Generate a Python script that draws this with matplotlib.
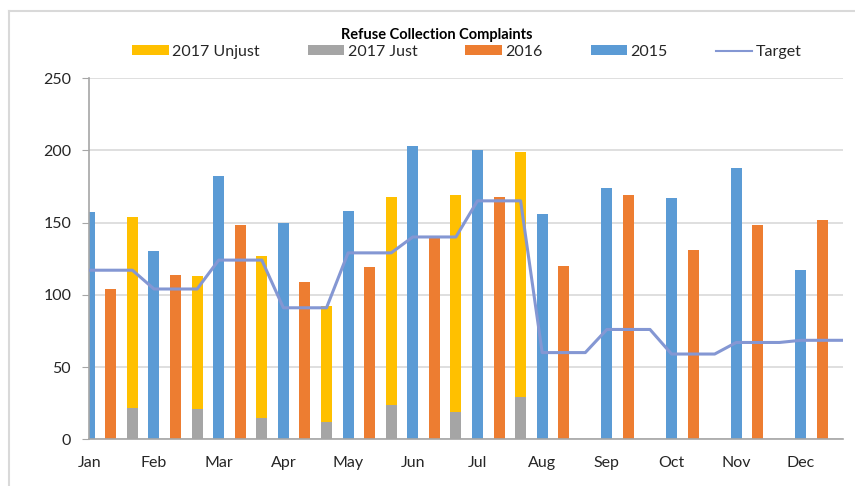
import matplotlib
matplotlib.use("Agg")
import matplotlib.pyplot as plt
from matplotlib.patches import Patch
from matplotlib.lines import Line2D
import numpy as np

plt.rcParams['font.family'] = ['Lato', 'DejaVu Sans']

months = ["Jan", "Feb", "Mar", "Apr", "May", "Jun", "Jul", "Aug", "Sep", "Oct", "Nov", "Dec"]
y2015 = [157, 130, 182, 150, 158, 203, 200, 156, 174, 167, 188, 117]
y2016 = [104, 114, 148, 109, 119, 141, 168, 120, 169, 131, 148, 152]
y2017_just = [22, 21, 15, 12, 24, 19, 29, 0, 0, 0, 0, 0]
y2017_total = [154, 113, 127, 92, 168, 169, 199, 0, 0, 0, 0, 0]
target = [117, 104, 124, 91, 129, 140, 165, 60, 76, 59, 67, 68.5]

y2017_unjust = [t - j for t, j in zip(y2017_total, y2017_just)]

C_BLUE = "#5B9BD5"
C_ORANGE = "#ED7D31"
C_GRAY = "#A5A5A5"
C_YELLOW = "#FFC000"
C_TARGET = "#8497D3"

fig = plt.figure(figsize=(8.55, 4.86), dpi=100)
ax = fig.add_axes([89.3 / 855, (486 - 439.3) / 486, (843 - 89.3) / 855, (439.3 - 78) / 486])

x = np.arange(len(months))
w = 0.17
off = 1 / 3
ax.bar(x, y2015, w, color=C_BLUE, zorder=2)
ax.bar(x + off, y2016, w, color=C_ORANGE, zorder=2)
ax.bar(x + 2 * off, y2017_just, w, color=C_GRAY, zorder=2)
ax.bar(x + 2 * off, y2017_unjust, w, bottom=y2017_just, color=C_YELLOW, zorder=2)

tx = []
ty = []
for i, t in enumerate(target):
    for k in range(3):
        tx.append(i + k * off)
        ty.append(t)
ax.plot(tx, ty, color=C_TARGET, lw=2.2, zorder=3, solid_joinstyle='round')

ax.set_xlim(0, 11.65)
ax.set_ylim(0, 250)
ax.set_yticks(range(0, 251, 50))
ax.set_xticks(x)
ax.set_xticklabels(months)
ax.yaxis.grid(True, color="#D9D9D9", lw=1.2, zorder=0)
ax.set_axisbelow(True)
for s in ["top", "right"]:
    ax.spines[s].set_visible(False)
for s in ["left", "bottom"]:
    ax.spines[s].set_color("#A6A6A6")
    ax.spines[s].set_linewidth(1.2)
ax.tick_params(axis='y', length=5, color="#A6A6A6", labelsize=11.5, labelcolor="#262626", pad=8)
ax.tick_params(axis='x', length=0, labelsize=11.5, labelcolor="#262626", pad=12)

fig.text(0.511, 0.927, "Refuse Collection Complaints", ha="center", va="center",
         fontsize=10.5, fontweight="bold", color="#000000")

handles = [
    Patch(facecolor=C_YELLOW, edgecolor="none"),
    Patch(facecolor=C_GRAY, edgecolor="none"),
    Patch(facecolor=C_ORANGE, edgecolor="none"),
    Patch(facecolor=C_BLUE, edgecolor="none"),
    Line2D([0], [0], color=C_TARGET, lw=1.5),
]
labels = ["2017 Unjust", "2017 Just", "2016", "2015", "Target"]
fig.legend(handles, labels, loc="center", ncol=5, frameon=False,
           bbox_to_anchor=(0.546, 0.893), fontsize=11.5, handlelength=2.3,
           handleheight=0.6, handletextpad=0.2, columnspacing=3.0,
           labelcolor="#262626")

# outer chart border (top and left)
fig.add_artist(Line2D([8.5 / 855, 8.5 / 855], [0, 1 - 11 / 486], color="#D9D9D9", lw=1.5,
                      transform=fig.transFigure))
fig.add_artist(Line2D([8.5 / 855, 1], [1 - 11 / 486, 1 - 11 / 486], color="#D9D9D9", lw=1.5,
                      transform=fig.transFigure))

fig.savefig("out.png", dpi=100)
